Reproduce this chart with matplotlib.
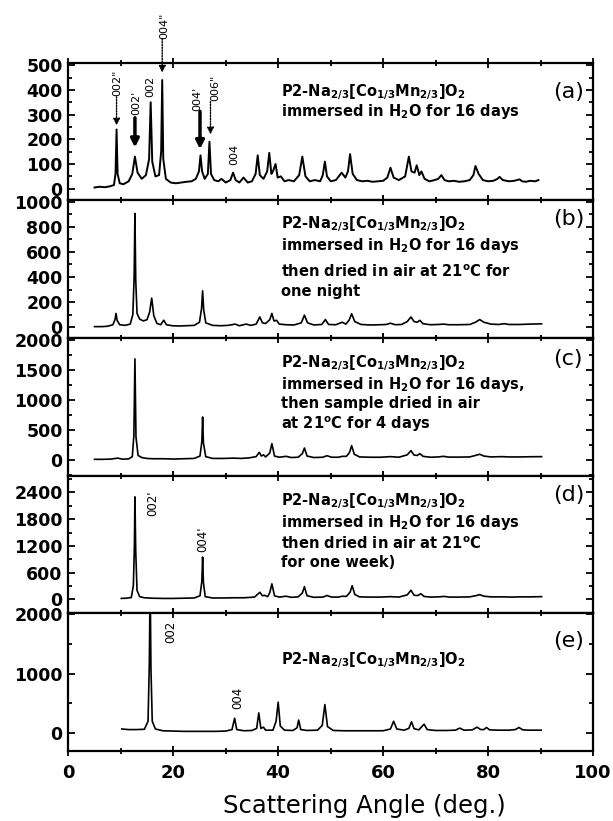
import matplotlib
matplotlib.use('Agg')
import matplotlib.pyplot as plt
from matplotlib.ticker import MultipleLocator

plt.rcParams['font.family'] = ['DejaVu Sans']
plt.rcParams['mathtext.fontset'] = 'dejavusans'
plt.rcParams['mathtext.default'] = 'bf'

# digitized XRD patterns, (2theta, intensity)
pts_a = [(5.0, 5), (6.0, 8), (7.0, 6), (8.0, 10), (8.7, 15), (9.0, 60), (9.2, 240), (9.4, 60), (9.8, 22),
         (10.5, 18), (11.5, 30), (12.2, 60), (12.7, 130), (13.2, 65), (14.0, 40), (14.8, 55), (15.4, 120),
         (15.7, 350), (16.0, 110), (16.6, 50), (17.3, 55), (17.7, 150), (17.9, 440), (18.1, 120), (18.6, 40),
         (19.5, 25), (20.5, 22), (21.5, 25), (22.5, 28), (23.5, 30), (24.3, 40), (24.9, 70), (25.2, 135),
         (25.5, 70), (26.0, 40), (26.6, 60), (26.9, 190), (27.2, 60), (27.8, 35), (28.6, 30), (29.2, 40),
         (30.0, 25), (30.9, 35), (31.4, 65), (31.9, 35), (32.6, 25), (33.4, 45), (34.2, 25), (35.0, 30),
         (35.7, 60), (36.1, 135), (36.5, 55), (37.2, 40), (37.9, 70), (38.3, 145), (38.7, 60), (39.0, 70),
         (39.5, 100), (39.9, 45), (40.5, 50), (41.2, 30), (42.0, 35), (43.0, 30), (44.0, 55), (44.6, 130),
         (45.2, 50), (46.0, 30), (47.0, 35), (48.0, 30), (48.5, 55), (48.9, 110), (49.3, 50), (50.0, 30),
         (51.0, 35), (52.1, 65), (52.8, 45), (53.3, 70), (53.7, 140), (54.2, 60), (55.0, 35), (56.0, 30),
         (57.0, 32), (58.0, 28), (59.0, 30), (60.0, 32), (60.8, 45), (61.4, 85), (62.0, 45), (63.0, 35),
         (64.2, 50), (64.9, 130), (65.4, 70), (66.0, 65), (66.4, 95), (66.9, 55), (67.3, 70), (67.9, 40),
         (68.8, 30), (69.8, 35), (70.5, 40), (71.1, 55), (71.7, 35), (72.5, 30), (73.5, 32), (74.5, 28),
         (75.5, 30), (76.5, 35), (77.2, 55), (77.6, 92), (78.2, 60), (79.0, 35), (80.0, 30), (81.0, 32),
         (81.8, 40), (82.2, 48), (82.8, 35), (84.0, 30), (85.0, 32), (86.0, 38), (86.5, 30), (87.2, 28),
         (88.0, 32), (89.0, 30), (89.6, 35)]

pts_b = [(5.0, 5), (6.5, 5), (7.5, 8), (8.5, 20), (8.9, 60), (9.1, 110), (9.3, 55), (9.8, 20), (10.8, 15),
         (11.8, 25), (12.3, 100), (12.55, 400), (12.7, 905), (12.85, 380), (13.1, 110), (13.6, 65), (14.3, 50),
         (15.0, 60), (15.5, 120), (15.9, 232), (16.3, 90), (16.9, 30), (17.6, 20), (18.2, 56), (18.7, 20),
         (19.8, 12), (21.0, 10), (22.5, 12), (24.0, 15), (25.0, 40), (25.4, 150), (25.6, 290), (25.8, 140),
         (26.2, 35), (27.5, 15), (29.0, 12), (30.5, 15), (31.8, 25), (32.6, 12), (33.9, 25), (34.8, 15),
         (35.8, 25), (36.5, 82), (37.0, 35), (37.6, 30), (38.4, 60), (38.8, 110), (39.2, 50), (39.7, 55),
         (40.2, 25), (41.5, 20), (43.0, 18), (44.4, 35), (45.0, 96), (45.6, 35), (46.8, 18), (48.3, 22),
         (49.0, 61), (49.6, 22), (51.0, 20), (52.2, 40), (52.9, 25), (53.5, 55), (54.0, 107), (54.6, 45),
         (55.8, 22), (57.5, 18), (59.5, 20), (60.6, 22), (61.4, 32), (62.3, 20), (63.5, 22), (64.6, 45),
         (65.3, 82), (65.9, 45), (66.5, 40), (67.0, 55), (67.6, 28), (69.0, 20), (70.5, 22), (71.5, 25),
         (72.5, 20), (74.5, 20), (76.5, 22), (77.6, 40), (78.4, 61), (79.2, 40), (80.5, 25), (82.0, 22),
         (83.1, 28), (84.0, 22), (86.0, 22), (88.0, 25), (90.2, 27)]

pts_c = [(5.0, 5), (6.5, 5), (8.0, 8), (9.4, 25), (10.3, 8), (11.5, 12), (12.2, 50), (12.5, 400), (12.7, 1680),
         (12.9, 380), (13.3, 70), (14.0, 35), (15.0, 20), (16.0, 15), (18.0, 15), (20.0, 10), (22.0, 15),
         (24.0, 20), (25.1, 60), (25.45, 300), (25.6, 711), (25.75, 280), (26.2, 50), (27.5, 20), (29.5, 20),
         (31.5, 25), (33.0, 20), (34.5, 30), (35.8, 50), (36.4, 122), (36.8, 60), (37.2, 80), (37.6, 45),
         (38.4, 110), (38.8, 267), (39.3, 60), (40.2, 40), (41.5, 55), (42.5, 35), (43.8, 40), (44.6, 100),
         (45.0, 194), (45.5, 60), (46.8, 35), (48.5, 40), (49.3, 65), (50.2, 40), (51.5, 40), (52.2, 55),
         (53.0, 55), (53.6, 120), (54.0, 233), (54.5, 90), (55.5, 45), (57.5, 40), (59.5, 40), (61.4, 50),
         (63.0, 40), (64.6, 80), (65.3, 150), (65.9, 75), (66.5, 70), (67.0, 100), (67.6, 55), (69.0, 40),
         (70.5, 45), (71.5, 55), (72.5, 42), (74.5, 42), (76.5, 45), (77.6, 70), (78.4, 90), (79.2, 60),
         (80.5, 45), (82.7, 50), (84.0, 45), (86.0, 45), (88.0, 48), (90.2, 50)]

pts_d = [(10.1, 20), (11.0, 25), (12.0, 40), (12.4, 300), (12.6, 1200), (12.7, 2300), (12.85, 1100), (13.1, 200),
         (13.6, 60), (14.5, 35), (16.0, 25), (18.0, 20), (20.0, 20), (22.0, 25), (24.0, 30), (25.1, 80),
         (25.45, 400), (25.6, 950), (25.75, 380), (26.1, 60), (27.5, 30), (29.5, 30), (31.5, 35), (33.5, 35),
         (35.5, 50), (36.5, 158), (37.0, 80), (37.4, 90), (38.0, 60), (38.4, 150), (38.8, 347), (39.3, 80),
         (40.2, 50), (41.5, 70), (42.5, 45), (43.8, 55), (44.6, 140), (45.0, 284), (45.5, 80), (46.8, 45),
         (48.5, 50), (49.3, 85), (50.2, 50), (51.5, 50), (52.2, 70), (53.0, 65), (53.7, 160), (54.1, 306),
         (54.6, 110), (55.5, 55), (57.5, 50), (59.5, 50), (61.4, 60), (63.0, 50), (64.6, 100), (65.3, 203),
         (65.9, 90), (66.6, 85), (67.2, 125), (67.8, 65), (69.0, 50), (70.5, 55), (71.7, 65), (72.6, 50),
         (74.5, 50), (76.5, 55), (77.6, 80), (78.4, 105), (79.2, 70), (80.5, 55), (82.7, 55), (84.5, 50),
         (86.0, 55), (88.0, 55), (90.2, 60)]

pts_e = [(10.2, 70), (11.5, 60), (13.0, 60), (14.5, 65), (15.2, 200), (15.45, 1200), (15.6, 2600), (15.75, 1100),
         (16.0, 200), (16.6, 70), (18.0, 40), (20.0, 35), (22.0, 30), (24.0, 30), (26.0, 30), (28.0, 30),
         (30.0, 35), (31.2, 60), (31.7, 250), (32.1, 60), (33.5, 40), (35.0, 45), (35.9, 80), (36.3, 340),
         (36.7, 80), (37.2, 100), (37.6, 50), (39.0, 50), (39.6, 200), (40.0, 520), (40.4, 120), (41.2, 50),
         (42.8, 45), (43.6, 90), (43.9, 220), (44.3, 60), (45.5, 45), (47.5, 50), (48.4, 130), (48.9, 480),
         (49.4, 110), (50.5, 45), (52.5, 40), (55.0, 40), (57.5, 40), (60.0, 40), (61.4, 70), (62.0, 200),
         (62.6, 70), (64.0, 50), (64.9, 80), (65.4, 190), (65.9, 75), (66.8, 55), (67.8, 150), (68.4, 60),
         (70.0, 45), (72.0, 45), (73.8, 50), (74.6, 85), (75.4, 50), (77.0, 55), (77.9, 100), (78.6, 60),
         (79.2, 60), (79.7, 95), (80.3, 55), (82.0, 50), (84.0, 50), (85.2, 60), (85.9, 95), (86.6, 55),
         (88.0, 50), (90.1, 50)]

formula = r'P2-Na$_{2/3}$[Co$_{1/3}$Mn$_{2/3}$]O$_2$'
desc_a = [formula, r'immersed in H$_2$O for 16 days']
desc_b = [formula, r'immersed in H$_2$O for 16 days', r'then dried in air at 21$^o$C for', 'one night']
desc_c = [formula, r'immersed in H$_2$O for 16 days,', 'then sample dried in air', r'at 21$^o$C for 4 days']
desc_d = [formula, r'immersed in H$_2$O for 16 days', r'then dried in air at 21$^o$C', 'for one week)']
desc_e = [formula]
panel_tags = ['(a)', '(b)', '(c)', '(d)', '(e)']

# peak labels: (text, 2theta, intensity)
lab_a = [('002"', 9.3, 430), ("002'", 12.9, 346), ('002', 15.6, 416), ('004"', 18.2, 660),
         ("004'", 24.5, 364), ('006"', 28.1, 410), ('004', 31.7, 140)]
lab_d = [("002'", 16.1, 2150), ("004'", 25.6, 1350)]
lab_e = [('002', 19.6, 1700), ('004', 32.2, 590)]
# arrows in (a): (2theta, tail, head, dotted?)
arr_a = [(9.2, 372, 256, True), (12.7, 287, 167, False), (17.9, 607, 470, True),
         (25.1, 313, 160, False), (27.1, 353, 220, True)]

pats = [pts_a, pts_b, pts_c, pts_d, pts_e]
descs = [desc_a, desc_b, desc_c, desc_d, desc_e]
desc_y = [[0.789, 0.644], [0.829, 0.675, 0.478, 0.337], [0.818, 0.662, 0.525, 0.375],
          [0.812, 0.662, 0.502, 0.371], [0.66]]
tag_y = [0.79, 0.866, 0.85, 0.856, 0.80]
ylims = [(-47, 510), (-85, 1010), (-265, 2030), (-310, 2780), (-295, 2015)]
ysteps = [100, 200, 500, 600, 1000]
lws = [1.4, 1.2, 1.2, 1.2, 1.2]

fig = plt.figure(figsize=(6.13, 8.21), dpi=100)
gs = fig.add_gridspec(5, 1, left=0.1114, right=0.9674, top=0.9236, bottom=0.0856, hspace=0)
axes = [fig.add_subplot(gs[i, 0]) for i in range(5)]

for i, ax in enumerate(axes):
    tt = [p[0] for p in pats[i]]
    yy = [p[1] for p in pats[i]]
    ax.plot(tt, yy, color='black', lw=lws[i])
    ax.set_xlim(0, 100)
    ax.set_ylim(*ylims[i])
    ax.xaxis.set_major_locator(MultipleLocator(20))
    ax.xaxis.set_minor_locator(MultipleLocator(10))
    ax.yaxis.set_major_locator(MultipleLocator(ysteps[i]))
    ax.yaxis.set_minor_locator(MultipleLocator(ysteps[i] / 2))
    ax.tick_params(axis='x', which='both', direction='inout', top=True, bottom=True, width=1.3)
    ax.tick_params(axis='x', which='major', length=7)
    ax.tick_params(axis='x', which='minor', length=5)
    ax.tick_params(axis='y', which='both', direction='in', left=True, right=True, width=1.3)
    ax.tick_params(axis='y', which='major', length=5, labelsize=12.5, pad=4)
    ax.tick_params(axis='y', which='minor', length=3)
    for lbl in ax.get_yticklabels():
        lbl.set_fontweight('bold')
    for sp in ax.spines.values():
        sp.set_linewidth(1.6)
    if i < 4:
        ax.tick_params(labelbottom=False)
    for txt, yf in zip(descs[i], desc_y[i]):
        ax.text(40.5, yf, txt, transform=ax.get_xaxis_transform(), ha='left', va='center',
                fontsize=10.5, fontweight='bold')
    ax.text(95.3, tag_y[i], panel_tags[i], transform=ax.get_xaxis_transform(), ha='center',
            va='center', fontsize=16)

ax = axes[0]
for txt, x, y in lab_a:
    ax.text(x, y, txt, rotation=90, ha='center', va='center', fontsize=8, clip_on=False)
for x, y0, y1, dotted in arr_a:
    if dotted:
        ax.annotate('', xy=(x, y1), xytext=(x, y0), annotation_clip=False,
                    arrowprops=dict(arrowstyle='-|>', lw=1.0, ls=(0, (1, 1)), color='black',
                                    mutation_scale=10, shrinkA=0, shrinkB=0))
    else:
        ax.annotate('', xy=(x, y1), xytext=(x, y0), annotation_clip=False,
                    arrowprops=dict(arrowstyle='-|>', lw=2.5, color='black',
                                    mutation_scale=12, shrinkA=0, shrinkB=0))
for txt, x, y in lab_d:
    axes[3].text(x, y, txt, rotation=90, ha='center', va='center', fontsize=8.5)
for txt, x, y in lab_e:
    axes[4].text(x, y, txt, rotation=90, ha='center', va='center', fontsize=8.5)

axes[4].tick_params(axis='x', labelsize=13, pad=6)
for lbl in axes[4].get_xticklabels():
    lbl.set_fontweight('bold')
fig.text(364 / 613, 1 - 806 / 821, 'Scattering Angle (deg.)', ha='center', va='center', fontsize=17.5)

fig.savefig('out.png', dpi=100)
